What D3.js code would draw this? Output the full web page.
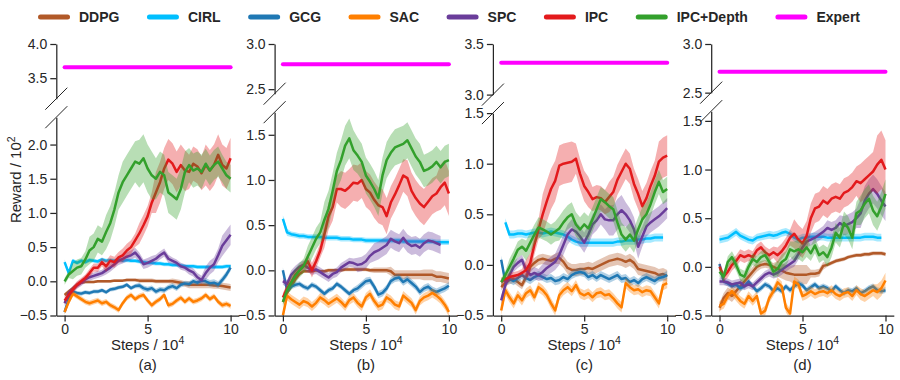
<!DOCTYPE html>
<html>
<head>
<meta charset="utf-8">
<script src="https://cdn.jsdelivr.net/npm/d3@7"></script>
<style>
  body { margin: 0; background: #fff; }
  text { font-family: "Liberation Sans", Arial, sans-serif; fill: #262626; font-weight: normal; }
</style>
</head>
<body>
<div id="chart"></div>
<script>
// legend / series
const seriesNames = ["DDPG", "CIRL", "GCG", "SAC", "SPC", "IPC", "IPC+Depth"];
const panelLabels = ["(a)", "(b)", "(c)", "(d)"];
const xTicks = [0, 5, 10];

// broken y axes: upper part holds the Expert line
const topLims = [[3.2, 4.0], [2.45, 3.0], [3.0, 3.5], [2.5, 3.0]];
const bottomLims = [[-0.5, 2.4], [-0.5, 1.75], [-0.5, 1.5], [-0.5, 1.6]];
const topTicks = [[3.5, 4.0], [2.5, 3.0], [3.0, 3.5], [2.5, 3.0]];
const bottomTicks = [[-0.5, 0, 0.5, 1.0, 1.5, 2.0], [-0.5, 0, 0.5, 1.0, 1.5], [-0.5, 0, 0.5, 1.0, 1.5], [-0.5, 0, 0.5, 1.0, 1.5]];
const expert = [3.66, 2.775, 3.315, 2.715];

// mean reward (x10^2), one value every 0.25 x10^4 steps
const ddpg_a = [-0.2,-0.15,-0.1,-0.05,-0.02,-0.01,-0.01,-0.01,0,0,0,0,0.01,0.01,0.01,0.02,0.02,0.02,0.01,0.01,0.01,0.01,0,0,0,0,0,-0.01,-0.02,-0.04,-0.05,-0.05,-0.05,-0.05,-0.05,-0.05,-0.06,-0.06,-0.07,-0.08,-0.09];
const cirl_a = [0.28,0.12,0.3,0.27,0.3,0.28,0.31,0.3,0.29,0.32,0.3,0.31,0.3,0.32,0.3,0.31,0.3,0.3,0.29,0.28,0.27,0.27,0.26,0.26,0.25,0.25,0.24,0.24,0.23,0.22,0.22,0.22,0.21,0.21,0.21,0.21,0.21,0.21,0.21,0.22,0.22];
const gcg_a = [-0.45,-0.25,-0.15,-0.17,-0.18,-0.16,-0.17,-0.15,-0.15,-0.13,-0.16,-0.12,-0.11,-0.09,-0.08,-0.05,-0.1,-0.07,-0.06,-0.1,-0.12,-0.1,-0.15,-0.12,-0.13,-0.09,-0.07,-0.1,-0.05,-0.03,-0.04,0,-0.02,0.01,0,-0.03,-0.02,-0.05,0.02,0.1,0.2];
const sac_a = [-0.45,-0.3,-0.18,-0.22,-0.26,-0.3,-0.32,-0.3,-0.28,-0.32,-0.3,-0.35,-0.38,-0.42,-0.32,-0.24,-0.2,-0.26,-0.22,-0.2,-0.28,-0.35,-0.3,-0.26,-0.2,-0.35,-0.33,-0.28,-0.24,-0.3,-0.25,-0.3,-0.28,-0.25,-0.2,-0.26,-0.22,-0.3,-0.35,-0.33,-0.36];
const spc_a = [-0.32,-0.17,-0.12,-0.06,-0.02,0.03,0.06,0.08,0.1,0.12,0.16,0.2,0.25,0.3,0.33,0.36,0.38,0.42,0.35,0.25,0.27,0.3,0.33,0.38,0.42,0.33,0.3,0.27,0.22,0.2,0.16,0.13,0.06,0.02,0.12,0.2,0.25,0.38,0.52,0.6,0.68];
const ipc_a = [-0.28,-0.2,-0.12,-0.05,0,0.05,0.12,0.2,0.2,0.28,0.22,0.3,0.28,0.35,0.38,0.45,0.5,0.6,0.7,0.82,0.95,1.15,1.3,1.45,1.65,1.78,1.72,1.6,1.7,1.62,1.6,1.72,1.68,1.58,1.7,1.62,1.7,1.85,1.7,1.65,1.8];
const ipcd_a = [0,0.1,0.15,0.2,0.22,0.32,0.45,0.5,0.62,0.58,0.72,0.85,1.05,1.3,1.45,1.55,1.65,1.75,1.72,1.8,1.65,1.55,1.5,1.6,1.55,1.3,1.25,1.2,1.35,1.6,1.7,1.62,1.65,1.6,1.72,1.62,1.7,1.75,1.65,1.55,1.5];

const ddpg_b = [-0.35,-0.25,-0.18,-0.1,-0.04,-0.01,-0.01,-0.01,0,-0.01,-0.01,0,0,0,0,0.01,0.01,0.01,0.01,0.01,0.01,0,0,0,0,0,-0.01,-0.05,-0.05,-0.05,-0.05,-0.05,-0.05,-0.05,-0.05,-0.05,-0.05,-0.07,-0.07,-0.08,-0.09];
const cirl_b = [0.57,0.42,0.4,0.39,0.38,0.38,0.37,0.37,0.37,0.37,0.36,0.36,0.36,0.36,0.35,0.35,0.35,0.34,0.34,0.34,0.33,0.33,0.33,0.33,0.33,0.33,0.33,0.33,0.33,0.32,0.32,0.32,0.32,0.32,0.32,0.32,0.32,0.31,0.31,0.31,0.31];
const gcg_b = [0,-0.22,-0.18,-0.16,-0.15,-0.18,-0.2,-0.16,-0.18,-0.22,-0.26,-0.22,-0.2,-0.15,-0.18,-0.22,-0.26,-0.22,-0.2,-0.16,-0.12,-0.11,-0.18,-0.27,-0.25,-0.2,-0.12,-0.09,-0.08,-0.13,-0.1,-0.14,-0.18,-0.24,-0.2,-0.18,-0.22,-0.24,-0.22,-0.2,-0.17];
const sac_b = [-0.5,-0.28,-0.32,-0.35,-0.38,-0.34,-0.36,-0.4,-0.36,-0.3,-0.33,-0.37,-0.34,-0.31,-0.35,-0.4,-0.33,-0.3,-0.36,-0.4,-0.3,-0.26,-0.34,-0.4,-0.38,-0.3,-0.33,-0.38,-0.4,-0.28,-0.32,-0.36,-0.44,-0.34,-0.3,-0.28,-0.25,-0.28,-0.32,-0.38,-0.46];
const spc_b = [-0.12,-0.15,-0.05,0,0.04,0.06,0.03,0,0.01,-0.02,-0.05,-0.08,-0.04,-0.02,0.03,0.06,0.09,0.08,0.06,0.07,0.1,0.16,0.2,0.22,0.25,0.28,0.35,0.32,0.3,0.36,0.3,0.27,0.28,0.25,0.3,0.33,0.32,0.3,0.28,null,null];
const ipc_b = [-0.3,-0.2,-0.13,-0.05,0,0.05,0.1,0,0.1,0.22,0.4,0.6,0.7,0.9,0.9,0.88,0.92,0.97,0.96,1,0.9,0.86,0.78,0.72,0.7,0.6,0.75,0.84,0.94,1.05,1.02,0.88,0.8,0.74,0.7,0.76,0.82,0.85,0.92,0.97,0.85];
const ipcd_b = [-0.35,-0.22,-0.14,-0.06,0,0.05,0.15,0.25,0.35,0.42,0.56,0.68,0.88,1.1,1.22,1.38,1.46,1.33,1.27,1.2,1.05,0.98,0.9,0.8,1.05,1.22,1.3,1.36,1.38,1.4,1.44,1.35,1.26,1.2,1.1,1.12,1.15,1.2,1.14,1.2,1.22];

const ddpg_c = [-0.22,-0.18,-0.15,-0.14,-0.17,-0.2,-0.12,-0.02,0.02,0.05,0.06,0.05,0.04,0.06,0.07,0.03,-0.03,-0.05,-0.05,-0.04,-0.04,-0.03,-0.04,-0.02,0,0.02,0.04,0.05,0.06,0.05,0.03,0.05,0.02,-0.04,-0.05,-0.06,-0.07,-0.08,-0.1,-0.09,-0.11];
const cirl_c = [null,0.42,0.3,0.3,0.31,0.31,0.3,0.31,0.32,0.32,0.31,0.32,0.33,0.32,0.31,0.3,0.28,0.25,0.23,0.22,0.22,0.22,0.22,0.22,0.22,0.22,0.22,0.22,0.23,0.23,0.24,0.24,0.24,0.25,0.25,0.26,0.26,0.27,0.27,0.27,null];
const gcg_c = [0.05,-0.17,-0.14,-0.16,-0.13,-0.1,-0.13,-0.15,-0.12,-0.1,-0.12,-0.14,-0.13,-0.16,-0.15,-0.12,-0.14,-0.1,-0.08,-0.07,-0.08,-0.12,-0.1,-0.13,-0.1,-0.12,-0.14,-0.12,-0.1,-0.14,-0.13,-0.17,-0.15,-0.18,-0.14,-0.12,-0.14,-0.16,-0.13,-0.12,-0.1];
const sac_c = [-0.45,-0.25,-0.32,-0.38,-0.3,-0.35,-0.28,-0.25,-0.32,-0.22,-0.25,-0.3,-0.38,-0.45,-0.3,-0.25,-0.22,-0.26,-0.2,-0.28,-0.3,-0.28,-0.32,-0.28,-0.27,-0.3,-0.29,-0.33,-0.38,-0.42,-0.18,-0.22,-0.25,-0.24,-0.27,-0.25,-0.26,-0.32,-0.38,-0.2,-0.18];
const spc_c = [-0.35,-0.2,-0.1,-0.02,0.02,0.05,-0.05,-0.1,-0.08,-0.1,-0.07,-0.03,0,0.03,0.1,0.2,0.3,0.35,0.33,0.28,0.22,0.3,0.4,0.44,0.5,0.45,0.44,0.44,0.5,0.54,0.5,0.44,0.35,0.18,0.28,0.38,0.42,0.45,0.48,0.52,0.56];
const ipc_c = [-0.17,-0.14,-0.12,-0.11,-0.1,-0.08,-0.05,0.02,0.2,0.35,0.5,0.63,0.75,0.83,0.98,1,1.01,1.02,1.05,0.9,0.78,0.72,0.65,0.67,0.66,0.62,0.67,0.72,0.84,0.92,1,0.95,0.8,0.7,0.58,0.66,0.78,0.88,1.02,1.06,1.08];
const ipcd_c = [-0.17,-0.1,-0.02,0.06,0.15,0.18,0.14,0.22,0.3,0.37,0.35,0.33,0.3,0.33,0.36,0.42,0.47,0.5,0.4,0.35,0.4,0.36,0.45,0.55,0.65,0.62,0.58,0.55,0.42,0.3,0.25,0.3,0.24,0.35,0.45,0.5,0.6,0.72,0.82,0.72,0.75];

const ddpg_d = [-0.42,-0.32,-0.27,-0.3,-0.25,-0.2,-0.15,-0.1,-0.05,0,0.02,0.03,0.02,0,-0.02,-0.04,-0.06,-0.07,-0.08,-0.08,-0.08,-0.08,-0.07,-0.07,-0.06,0.01,0.02,0.04,0.06,0.07,0.08,0.1,0.11,0.12,0.12,0.13,0.13,0.14,0.14,0.14,0.13];
const cirl_d = [0.28,0.29,0.3,0.33,0.36,0.32,0.3,0.28,0.27,0.3,0.31,0.32,0.33,0.32,0.33,0.35,0.36,0.34,0.3,0.28,0.3,0.3,0.31,0.31,0.31,0.31,0.3,0.3,0.3,0.3,0.3,0.3,0.3,0.3,0.3,0.31,0.31,0.31,0.3,0.3,null];
const gcg_d = [0.03,-0.15,-0.17,-0.2,-0.18,-0.22,-0.2,-0.15,-0.2,-0.25,-0.22,-0.18,-0.2,-0.25,-0.22,-0.25,-0.2,-0.24,-0.2,-0.17,-0.19,-0.24,-0.21,-0.18,-0.22,-0.2,-0.22,-0.25,-0.2,-0.24,-0.27,-0.24,-0.25,-0.22,-0.27,-0.25,-0.22,-0.2,-0.24,-0.25,-0.24];
const sac_d = [-0.4,-0.38,-0.3,-0.25,-0.3,-0.35,-0.38,-0.3,-0.35,-0.3,-0.48,-0.45,-0.32,-0.25,-0.16,-0.2,-0.42,-0.48,-0.15,-0.18,-0.3,-0.28,-0.25,-0.28,-0.26,-0.25,-0.27,-0.24,-0.28,-0.3,-0.27,-0.26,-0.3,-0.24,-0.28,-0.3,-0.27,-0.24,-0.26,-0.22,-0.14];
const spc_d = [-0.15,-0.15,-0.16,-0.18,-0.17,-0.16,-0.2,-0.18,-0.2,-0.16,-0.12,-0.08,-0.06,-0.08,-0.06,-0.03,0,0.03,0.06,0.13,0.2,0.26,0.28,0.3,0.33,0.36,0.4,0.38,0.4,0.45,0.42,0.44,0.46,0.5,0.55,0.68,0.75,0.8,0.75,0.68,0.62];
const ipc_d = [0,-0.1,-0.05,0.02,0.06,0.12,0.1,0.12,0.1,0.17,0.2,0.15,0.12,0.15,0.12,0.16,0.22,0.3,0.34,0.28,0.24,0.32,0.5,0.6,0.62,0.68,0.65,0.7,0.72,0.7,0.76,0.78,0.82,0.88,0.86,0.9,0.94,0.98,1.05,1.1,1];
const ipcd_d = [-0.05,-0.1,0.05,0.1,0.02,-0.08,-0.1,0,0.08,0.05,0.1,0.12,0.05,-0.05,-0.02,0.05,0.08,0.18,0.16,0.18,0.15,0.2,0.14,0.22,0.12,0.15,0.1,0.2,0.35,0.3,0.45,0.4,0.3,0.55,0.58,0.65,0.7,0.58,0.52,0.62,0.75];

// half width of the shaded band, one value per 10^4 steps (0..10)
const ddpg_a_sd = [0.03,0.02,0.02,0.02,0.02,0.03,0.03,0.04,0.05,0.05,0.05];
const cirl_a_sd = [0.04,0.03,0.03,0.03,0.03,0.03,0.03,0.03,0.03,0.03,0.03];
const gcg_a_sd  = [0.03,0.03,0.03,0.03,0.03,0.04,0.04,0.04,0.04,0.05,0.05];
const sac_a_sd  = [0.04,0.04,0.04,0.04,0.04,0.04,0.04,0.04,0.04,0.04,0.04];
const spc_a_sd  = [0.04,0.05,0.05,0.06,0.07,0.07,0.06,0.05,0.06,0.1,0.15];
const ipc_a_sd  = [0.05,0.05,0.06,0.08,0.1,0.15,0.3,0.3,0.25,0.3,0.3];
const ipcd_a_sd = [0.05,0.12,0.2,0.25,0.3,0.35,0.3,0.3,0.25,0.22,0.2];

const ddpg_b_sd = [0.03,0.02,0.02,0.02,0.02,0.02,0.03,0.05,0.05,0.06,0.06];
const cirl_b_sd = [0.04,0.03,0.03,0.03,0.03,0.03,0.03,0.03,0.03,0.03,0.03];
const gcg_b_sd  = [0.03,0.03,0.03,0.03,0.03,0.04,0.04,0.04,0.04,0.04,0.04];
const sac_b_sd  = [0.05,0.05,0.05,0.05,0.05,0.05,0.05,0.05,0.05,0.05,0.05];
const spc_b_sd  = [0.04,0.05,0.05,0.05,0.05,0.08,0.1,0.1,0.1,0.1,0.1];
const ipc_b_sd  = [0.05,0.05,0.08,0.15,0.2,0.2,0.2,0.18,0.2,0.2,0.25];
const ipcd_b_sd = [0.05,0.08,0.12,0.2,0.22,0.2,0.2,0.2,0.2,0.18,0.18];

const ddpg_c_sd = [0.03,0.04,0.05,0.05,0.06,0.06,0.06,0.06,0.06,0.06,0.06];
const cirl_c_sd = [0.04,0.04,0.04,0.04,0.04,0.04,0.04,0.04,0.04,0.04,0.04];
const gcg_c_sd  = [0.04,0.04,0.04,0.04,0.04,0.04,0.04,0.04,0.04,0.04,0.04];
const sac_c_sd  = [0.05,0.05,0.05,0.05,0.05,0.05,0.05,0.05,0.05,0.05,0.05];
const spc_c_sd  = [0.04,0.05,0.06,0.08,0.1,0.1,0.1,0.15,0.12,0.1,0.1];
const ipc_c_sd  = [0.04,0.04,0.1,0.2,0.2,0.15,0.12,0.15,0.15,0.15,0.2];
const ipcd_c_sd = [0.04,0.08,0.1,0.1,0.12,0.12,0.12,0.12,0.12,0.12,0.12];

const ddpg_d_sd = [0.05,0.06,0.05,0.04,0.08,0.1,0.04,0.02,0.02,0.02,0.02];
const cirl_d_sd = [0.04,0.04,0.04,0.04,0.04,0.04,0.04,0.04,0.04,0.04,0.04];
const gcg_d_sd  = [0.03,0.03,0.03,0.03,0.03,0.03,0.03,0.03,0.03,0.03,0.03];
const sac_d_sd  = [0.05,0.05,0.05,0.05,0.05,0.05,0.05,0.05,0.05,0.06,0.08];
const spc_d_sd  = [0.04,0.04,0.04,0.04,0.05,0.06,0.06,0.08,0.1,0.15,0.15];
const ipc_d_sd  = [0.05,0.06,0.06,0.06,0.08,0.15,0.15,0.15,0.15,0.2,0.3];
const ipcd_d_sd = [0.05,0.06,0.06,0.06,0.08,0.1,0.08,0.1,0.12,0.15,0.15];

const means = [
  [ddpg_a, cirl_a, gcg_a, sac_a, spc_a, ipc_a, ipcd_a],
  [ddpg_b, cirl_b, gcg_b, sac_b, spc_b, ipc_b, ipcd_b],
  [ddpg_c, cirl_c, gcg_c, sac_c, spc_c, ipc_c, ipcd_c],
  [ddpg_d, cirl_d, gcg_d, sac_d, spc_d, ipc_d, ipcd_d]
];
const spreads = [
  [ddpg_a_sd, cirl_a_sd, gcg_a_sd, sac_a_sd, spc_a_sd, ipc_a_sd, ipcd_a_sd],
  [ddpg_b_sd, cirl_b_sd, gcg_b_sd, sac_b_sd, spc_b_sd, ipc_b_sd, ipcd_b_sd],
  [ddpg_c_sd, cirl_c_sd, gcg_c_sd, sac_c_sd, spc_c_sd, ipc_c_sd, ipcd_c_sd],
  [ddpg_d_sd, cirl_d_sd, gcg_d_sd, sac_d_sd, spc_d_sd, ipc_d_sd, ipcd_d_sd]
];

const colors = ["#b15928", "#00bfff", "#1f78b4", "#ff7f00", "#6a3d9a", "#e31a1c", "#33a02c"];
const expertColor = "#ff00ff";
const ink = "#262626";

const width = 900, height = 380;
const left0 = 56.3, panelStep = 218.3, panelW = 182.6;
const plotTop = 44, plotBottom = 315.5, breakGap = 18.5;

const svg = d3.select("#chart").append("svg")
  .attr("width", width)
  .attr("height", height);

const fmt = d3.format(".1f");

function styleAxis(g) {
  g.attr("font-family", null).attr("font-size", null);
  g.select(".domain").attr("stroke", ink).attr("stroke-width", 1.25);
  g.selectAll(".tick line").attr("stroke", ink).attr("stroke-width", 1.25);
  g.selectAll(".tick text").style("font-size", "14px").attr("fill", ink);
}

// label "base^sup" centred on (0,0) of the given group, as two plain text nodes
function supLabel(g, base, sup) {
  const b = g.append("text").style("font-size", "15px").text(base);
  const s = g.append("text").style("font-size", "10.5px").attr("dy", -6).text(sup);
  const bw = b.node().getComputedTextLength();
  const sw = s.node().getComputedTextLength();
  const start = -(bw + sw) / 2;
  b.attr("x", start);
  s.attr("x", start + bw);
}

for (let p = 0; p < 4; p++) {
  const left = left0 + p * panelStep;
  const x = d3.scaleLinear().domain([-0.5, 10.5]).range([left, left + panelW]);

  const [tl, th] = topLims[p];
  const [bl, bh] = bottomLims[p];
  const unit = (plotBottom - plotTop - breakGap) / ((th - tl) + (bh - bl));
  const topEnd = plotTop + (th - tl) * unit;
  const botStart = topEnd + breakGap;
  const yTop = d3.scaleLinear().domain([tl, th]).range([topEnd, plotTop]);
  const yBot = d3.scaleLinear().domain([bl, bh]).range([plotBottom, botStart]);

  const panel = svg.append("g");

  const clipId = "clip" + p;
  svg.append("clipPath").attr("id", clipId)
    .append("rect")
    .attr("x", left).attr("y", botStart)
    .attr("width", panelW).attr("height", plotBottom - botStart);

  const plot = panel.append("g").attr("clip-path", `url(#${clipId})`);

  means[p].forEach((vals, s) => {
    const sd = spreads[p][s];
    const pts = vals.map((v, i) => ({ step: i * 0.25, v: v, sd: sd[Math.round(i / 4)] }));

    const area = d3.area()
      .defined(d => d.v !== null)
      .x(d => x(d.step))
      .y0(d => yBot(d.v - d.sd))
      .y1(d => yBot(d.v + d.sd));
    const line = d3.line()
      .defined(d => d.v !== null)
      .x(d => x(d.step))
      .y(d => yBot(d.v));

    plot.append("path")
      .datum(pts)
      .attr("d", area)
      .attr("fill", colors[s])
      .attr("fill-opacity", 0.35)
      .attr("stroke", "none");

    plot.append("path")
      .datum(pts)
      .attr("d", line)
      .attr("fill", "none")
      .attr("stroke", colors[s])
      .attr("stroke-width", 2.5)
      .attr("stroke-linejoin", "round");
  });

  // expert line in the upper axes
  panel.append("line")
    .attr("x1", x(0)).attr("x2", x(10))
    .attr("y1", yTop(expert[p])).attr("y2", yTop(expert[p]))
    .attr("stroke", expertColor)
    .attr("stroke-width", 4)
    .attr("stroke-linecap", "round");

  // axes
  panel.append("g")
    .attr("transform", `translate(${left},0)`)
    .call(d3.axisLeft(yTop).tickValues(topTicks[p]).tickFormat(fmt).tickSize(6).tickSizeOuter(0).tickPadding(3))
    .call(styleAxis);

  panel.append("g")
    .attr("transform", `translate(${left},0)`)
    .call(d3.axisLeft(yBot).tickValues(bottomTicks[p]).tickFormat(fmt).tickSize(6).tickSizeOuter(0).tickPadding(3))
    .call(styleAxis);

  panel.append("g")
    .attr("transform", `translate(0,${plotBottom})`)
    .call(d3.axisBottom(x).tickValues(xTicks).tickFormat(d3.format("d")).tickSize(6).tickSizeOuter(0).tickPadding(3))
    .call(styleAxis);

  // break marks
  [topEnd, botStart].forEach(yy => {
    panel.append("line")
      .attr("x1", left - 11).attr("y1", yy + 11)
      .attr("x2", left + 11).attr("y2", yy - 11)
      .attr("stroke", ink)
      .attr("stroke-width", 1);
  });

  const cx = left + panelW / 2;
  supLabel(panel.append("g").attr("transform", `translate(${cx},350)`), "Steps / 10", "4");

  panel.append("text")
    .attr("x", cx).attr("y", 370)
    .attr("text-anchor", "middle")
    .style("font-size", "15px")
    .text(panelLabels[p]);
}

// y label
supLabel(svg.append("g").attr("transform", `translate(21,${(plotTop + plotBottom) / 2}) rotate(-90)`), "Reward / 10", "2");

// legend
const legendNames = seriesNames.concat(["Expert"]);
const legendColors = colors.concat([expertColor]);
const legend = svg.append("g");
const items = legendNames.map((name, i) => {
  const g = legend.append("g");
  g.append("line")
    .attr("x1", 2.5).attr("x2", 29.5)
    .attr("y1", 17).attr("y2", 17)
    .attr("stroke", legendColors[i])
    .attr("stroke-width", 5)
    .attr("stroke-linecap", "round");
  const t = g.append("text")
    .attr("x", 41).attr("y", 17).attr("dy", "0.35em")
    .style("font-size", "14px")
    .style("font-weight", "bold")
    .text(name);
  return { g: g, w: 41 + t.node().getComputedTextLength() };
});
const colGap = 27.5;
const totalW = d3.sum(items, d => d.w) + colGap * (items.length - 1);
let pos = 449 - totalW / 2;
items.forEach(it => {
  it.g.attr("transform", `translate(${pos},0)`);
  pos += it.w + colGap;
});
</script>
</body>
</html>
